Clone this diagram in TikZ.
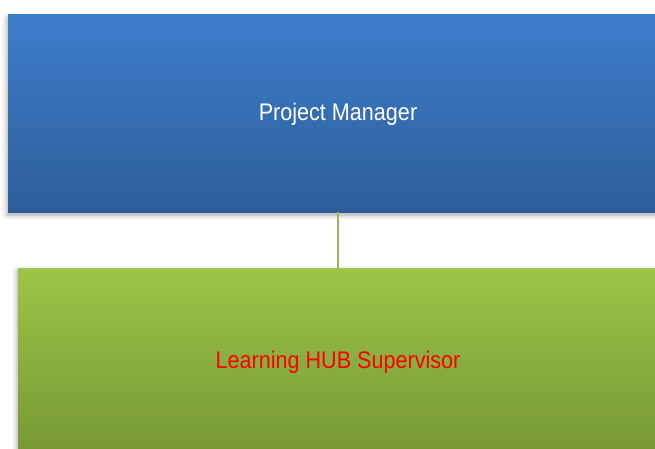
\documentclass[tikz,border=0pt]{standalone}
\usepackage{fontspec}
\setmainfont{Liberation Sans}
\newfontfamily\boxfont[FakeStretch=0.9]{Liberation Sans}
\usetikzlibrary{shadows.blur}
\definecolor{bluetop}{RGB}{61,126,204}
\definecolor{bluebot}{RGB}{45,93,153}
\definecolor{greentop}{RGB}{157,197,72}
\definecolor{greenbot}{RGB}{119,152,52}
\definecolor{linkgreen}{RGB}{150,188,85}
\definecolor{hubred}{RGB}{255,0,0}
\begin{document}
\begin{tikzpicture}[x=1pt,y=-1pt,
  orgbox/.style={rectangle, inner sep=0pt, outer sep=0pt,
    font=\boxfont\fontsize{24}{28}\selectfont,
    blur shadow={shadow xshift=-1pt, shadow yshift=-3pt, shadow blur radius=5pt, shadow opacity=35}},
  link/.style={draw=linkgreen, line width=1.8pt}]
\useasboundingbox (0,0) rectangle (655,449);
\node[orgbox, minimum width=660pt, minimum height=197pt, text height=20pt, text depth=5pt,
  top color=bluetop, bottom color=bluebot, text=white] (pm) at (338,113.5) {Project Manager};
\node[orgbox, minimum width=640pt, minimum height=182pt, text height=22pt, text depth=4pt,
  top color=greentop, bottom color=greenbot, text=hubred] (hub) at (338,359) {Learning HUB Supervisor};
\draw[link] (pm.south) -- (hub.north);
\end{tikzpicture}
\end{document}
